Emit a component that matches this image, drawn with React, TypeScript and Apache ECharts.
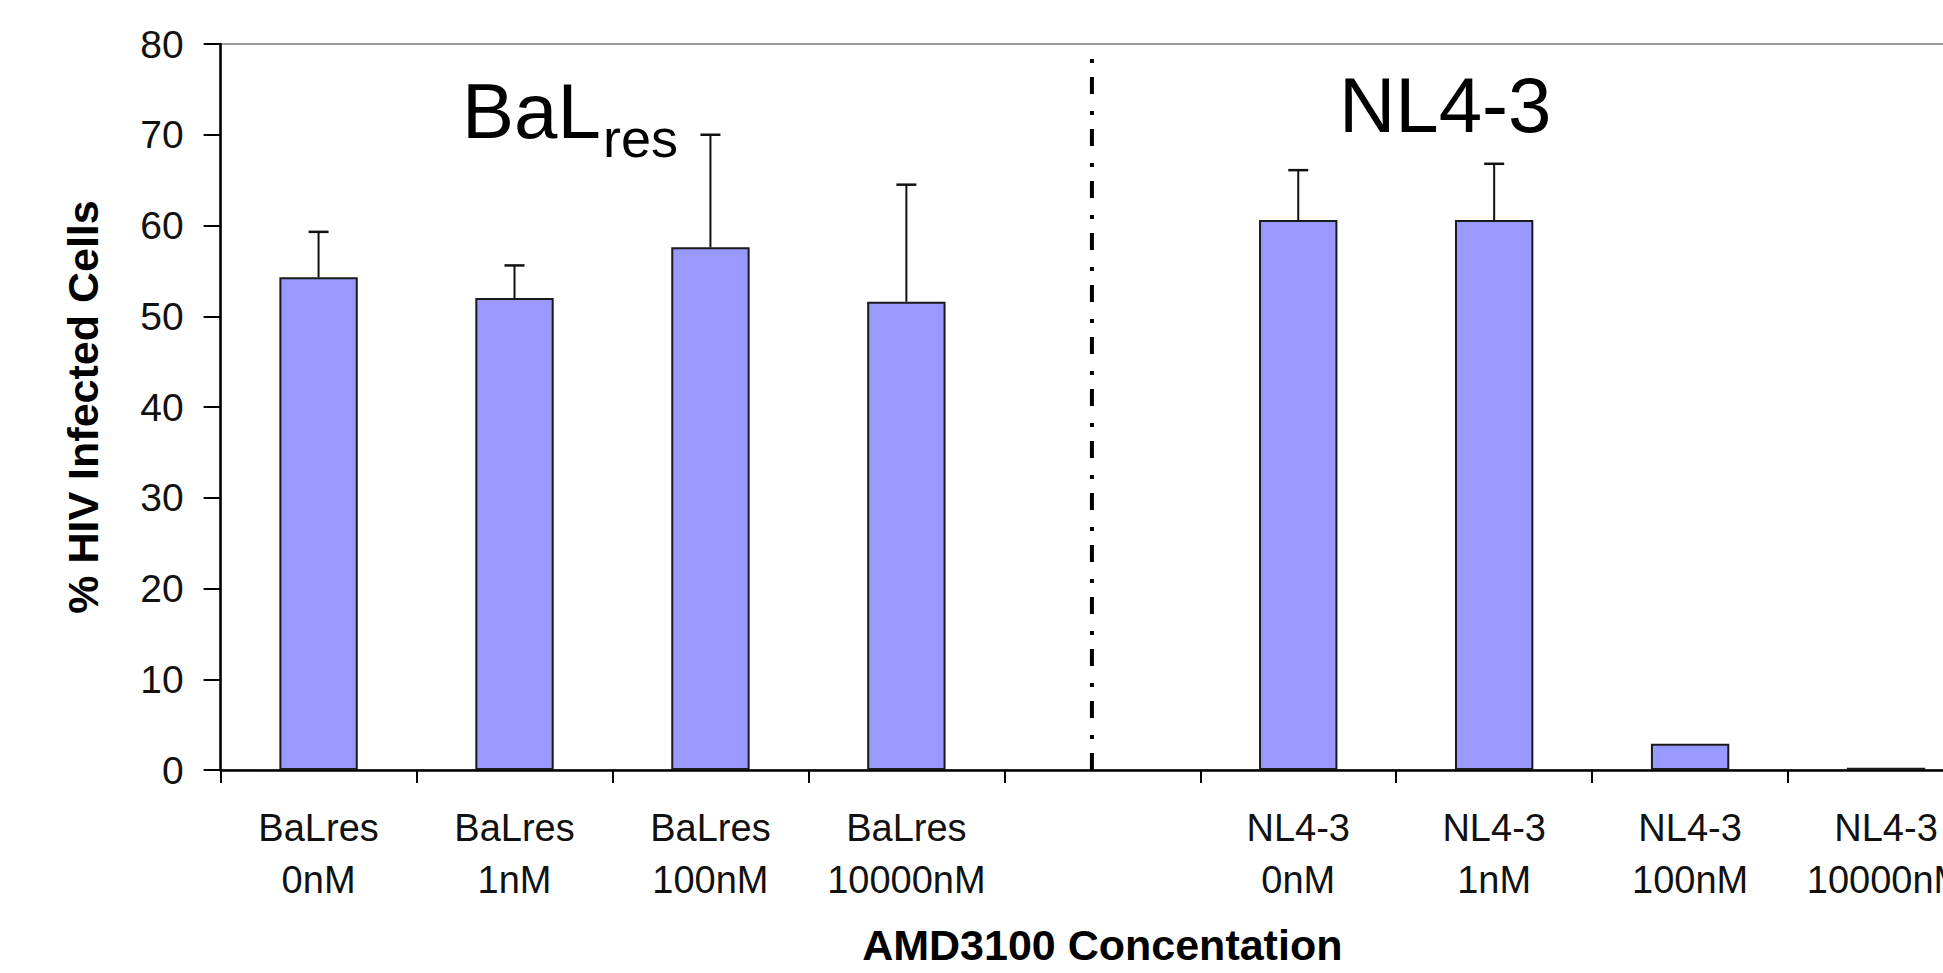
import React, { useEffect, useRef } from "react";
import * as echarts from "echarts";

const categories = [
  "BaLres\n0nM",
  "BaLres\n1nM",
  "BaLres\n100nM",
  "BaLres\n10000nM",
  "",
  "NL4-3\n0nM",
  "NL4-3\n1nM",
  "NL4-3\n100nM",
  "NL4-3\n10000nM",
];
const infectedPct: (number | null)[] = [54.3, 52.0, 57.6, 51.6, null, 60.6, 60.6, 2.9, 0.25];
const errorUpper: (number | null)[] = [59.3, 55.6, 70.0, 64.5, null, 66.1, 66.8, null, null];
const yMin = 0;
const yMax = 80;
const yStep = 10;
const dividerCategory = 4;
const yAxisTitle = "% HIV Infected Cells";
const xAxisTitle = "AMD3100 Concentation";
const groupTitleLeft = "BaL";
const groupTitleLeftSub = "res";
const groupTitleRight = "NL4-3";

export default function App() {
  const ref = useRef<HTMLDivElement>(null);
  useEffect(() => {
    if (!ref.current) return;
    const chart = echarts.init(ref.current, undefined, { renderer: "svg" });
    const tickFont = "'Liberation Sans', Arial, sans-serif";
    const errorData = categories
      .map((_, i) =>
        errorUpper[i] == null || infectedPct[i] == null ? null : [i, infectedPct[i], errorUpper[i]]
      )
      .filter((d) => d !== null);
    chart.setOption({
      animation: false,
      backgroundColor: "#ffffff",
      grid: {
        left: 220.6,
        top: 44,
        right: 0,
        bottom: 203,
        containLabel: false,
        outerBoundsMode: "none",
        show: true,
        borderColor: "#9a9a9a",
        borderWidth: 2,
        backgroundColor: "transparent",
      },
      xAxis: {
        type: "category",
        data: categories,
        boundaryGap: true,
        name: xAxisTitle,
        nameLocation: "middle",
        nameGap: 154,
        nameTextStyle: {
          fontFamily: "'Liberation Sans', Arial, sans-serif",
          fontWeight: "bold",
          fontSize: 43,
          lineHeight: 42,
          color: "#000",
        },
        axisLine: { show: true, lineStyle: { color: "#000", width: 2.5 } },
        axisTick: { show: true, length: 13, lineStyle: { color: "#000", width: 2 } },
        axisLabel: {
          interval: 0,
          margin: 32,
          fontFamily: tickFont,
          fontSize: 38,
          lineHeight: 52,
          color: "#111",
        },
        splitLine: { show: false },
      },
      yAxis: {
        type: "value",
        min: yMin,
        max: yMax,
        interval: yStep,
        name: yAxisTitle,
        nameLocation: "middle",
        nameGap: 116,
        nameRotate: 90,
        nameTextStyle: {
          fontFamily: "'Liberation Sans', Arial, sans-serif",
          fontWeight: "bold",
          fontSize: 43,
          color: "#000",
        },
        axisLine: { show: true, lineStyle: { color: "#000", width: 2.5 } },
        axisTick: { show: true, length: 17, lineStyle: { color: "#000", width: 2 } },
        axisLabel: {
          margin: 37,
          fontFamily: tickFont,
          fontSize: 39,
          color: "#111",
        },
        splitLine: { show: false },
      },
      series: [
        {
          type: "bar",
          data: infectedPct.map((v) => (v == null ? "-" : v)),
          barWidth: "40%",
          itemStyle: { color: "#9999ff", borderColor: "#1a1a1a", borderWidth: 2 },
          z: 2,
        },
        {
          type: "custom",
          data: errorData,
          encode: { x: 0, y: [1, 2] },
          z: 3,
          renderItem: (params: any, api: any) => {
            const idx = api.value(0);
            const base = api.coord([idx, api.value(1)]);
            const top = api.coord([idx, api.value(2)]);
            const half = 10;
            return {
              type: "group",
              children: [
                {
                  type: "line",
                  shape: { x1: base[0], y1: base[1], x2: top[0], y2: top[1] },
                  style: { stroke: "#111", lineWidth: 2 },
                },
                {
                  type: "line",
                  shape: { x1: top[0] - half, y1: top[1], x2: top[0] + half, y2: top[1] },
                  style: { stroke: "#111", lineWidth: 2.5 },
                },
              ],
            };
          },
        },
        {
          type: "custom",
          data: [[dividerCategory, yMin, yMax]],
          encode: { x: 0, y: [1, 2] },
          z: 4,
          renderItem: (params: any, api: any) => {
            const idx = api.value(0);
            const p0 = api.coord([idx, api.value(1)]);
            const p1 = api.coord([idx, api.value(2)]);
            const bw = api.size([1, 0])[0];
            const x = p0[0] - bw * 0.053;
            return {
              type: "line",
              shape: { x1: x, y1: p0[1], x2: x, y2: p1[1] },
              style: { stroke: "#000", lineWidth: 4, lineDash: [17, 14, 4, 17] },
            };
          },
        },
      ],
      graphic: [
        {
          type: "text",
          x: 462,
          y: 111,
          style: {
            text: groupTitleLeft,
            fontSize: 78,
            fontFamily: "'Liberation Sans', Arial, sans-serif",
            fill: "#000",
            align: "left",
            verticalAlign: "middle",
          },
        },
        {
          type: "text",
          x: 603,
          y: 138,
          style: {
            text: groupTitleLeftSub,
            fontSize: 54,
            fontFamily: "'Liberation Sans', Arial, sans-serif",
            fill: "#000",
            align: "left",
            verticalAlign: "middle",
          },
        },
        {
          type: "text",
          x: 1339,
          y: 105,
          style: {
            text: groupTitleRight,
            fontSize: 78,
            fontFamily: "'Liberation Sans', Arial, sans-serif",
            fill: "#000",
            align: "left",
            verticalAlign: "middle",
          },
        },
      ],
    });
    return () => chart.dispose();
  }, []);
  return (
    <div
      style={{
        position: "fixed",
        left: 0,
        top: 0,
        width: 1943,
        height: 973,
        overflow: "hidden",
        background: "#fff",
      }}
    >
      <div ref={ref} style={{ width: 1984, height: 973 }} />
    </div>
  );
}
